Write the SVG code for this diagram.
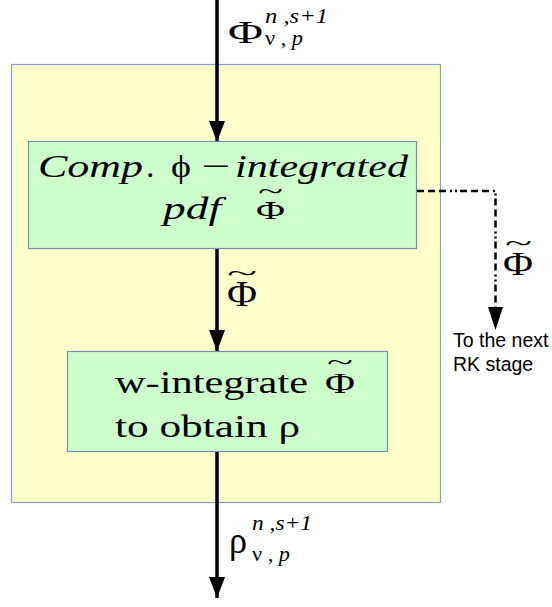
<svg xmlns="http://www.w3.org/2000/svg" width="552" height="607" viewBox="0 0 552 607">
<style>
.frame{fill:#ffffcc;stroke:#87a0c8;stroke-width:1.2}
.box{fill:#ccffcc;stroke:#7890b0;stroke-width:1.2}
.ser{font-family:"Liberation Serif","Times New Roman",serif;fill:#000}
.it{font-style:italic}
.sans{font-family:"Liberation Sans",Arial,sans-serif;fill:#000;font-size:19.5px}
.wire{stroke:#000;stroke-width:3.5;fill:none}
.dd{stroke:#000;stroke-width:2.5;fill:none;stroke-dasharray:7 4 7 4 7 4 2 3 2 3}
</style>
<defs>
<marker id="ah" viewBox="0 0 21 16" refX="21" refY="8" markerWidth="21" markerHeight="16" markerUnits="userSpaceOnUse" orient="auto">
<path d="M0,0 L21,8 L0,16 Z" fill="#000"/>
</marker>
</defs>
<rect id="frame" class="frame" x="11.5" y="64.5" width="429" height="438"/>
<g id="connectors">
<line class="wire" x1="217" y1="0" x2="217" y2="142" marker-end="url(#ah)"/>
<line class="wire" x1="217" y1="249" x2="217" y2="351" marker-end="url(#ah)"/>
<line class="wire" x1="217" y1="451" x2="217" y2="598" marker-end="url(#ah)"/>
<polyline class="dd" points="417,191 495.5,191 495.5,309"/>
<path d="M488,307 L503,307 L495.5,330 Z" fill="#000"/>
</g>
<g id="node-comp">
<rect class="box" x="28.5" y="141.5" width="388" height="107"/>
<text class="ser it" x="38" y="177" font-size="32" textLength="105" lengthAdjust="spacingAndGlyphs">Comp</text>
<text class="ser it" x="147" y="177" font-size="32">.</text>
<text class="ser" x="171" y="177" font-size="32" textLength="20" lengthAdjust="spacingAndGlyphs">ϕ</text>
<text class="ser" x="201" y="177" font-size="32" textLength="29" lengthAdjust="spacingAndGlyphs">−</text>
<text class="ser it" x="235" y="177" font-size="32" textLength="173" lengthAdjust="spacingAndGlyphs">integrated</text>
<text class="ser it" x="163" y="219" font-size="32" textLength="58" lengthAdjust="spacingAndGlyphs">pdf</text>
<text class="ser" font-size="25"><tspan x="256" y="219" textLength="29" lengthAdjust="spacingAndGlyphs">Φ</tspan><tspan x="258" y="199" font-size="24" textLength="25" lengthAdjust="spacingAndGlyphs">~</tspan></text>
</g>
<g id="node-wint">
<rect class="box" x="67.5" y="351.5" width="320" height="100"/>
<text class="ser" x="115" y="393" font-size="32" textLength="193" lengthAdjust="spacingAndGlyphs">w-integrate</text>
<text class="ser" font-size="30"><tspan x="325" y="393" textLength="30" lengthAdjust="spacingAndGlyphs">Φ</tspan><tspan x="327" y="370" font-size="24" textLength="26" lengthAdjust="spacingAndGlyphs">~</tspan></text>
<text class="ser" x="115" y="437" font-size="32" textLength="185" lengthAdjust="spacingAndGlyphs">to obtain ρ</text>
</g>
<g id="labels">
<text class="ser" x="228" y="43" font-size="32" textLength="35" lengthAdjust="spacingAndGlyphs">Φ</text>
<text class="ser it" x="265" y="23" font-size="21" textLength="63" lengthAdjust="spacingAndGlyphs">n ,s+1</text>
<text class="ser it" x="265" y="45" font-size="21" textLength="38" lengthAdjust="spacingAndGlyphs"><tspan font-style="normal">ν</tspan> , p</text>
<text class="ser" font-size="35"><tspan x="227" y="306" textLength="30" lengthAdjust="spacingAndGlyphs">Φ</tspan><tspan x="227" y="281" font-size="24" textLength="30" lengthAdjust="spacingAndGlyphs">~</tspan></text>
<text class="ser" font-size="34"><tspan x="503" y="275" textLength="30" lengthAdjust="spacingAndGlyphs">Φ</tspan><tspan x="505" y="251" font-size="24" textLength="27" lengthAdjust="spacingAndGlyphs">~</tspan></text>
<text class="sans" x="453" y="347">To the next</text>
<text class="sans" x="453" y="371">RK stage</text>
<text class="ser" x="229" y="553" font-size="37" textLength="18" lengthAdjust="spacingAndGlyphs">ρ</text>
<text class="ser it" x="252" y="530" font-size="21" textLength="60" lengthAdjust="spacingAndGlyphs">n ,s+1</text>
<text class="ser it" x="252" y="561" font-size="21" textLength="38" lengthAdjust="spacingAndGlyphs"><tspan font-style="normal">ν</tspan> , p</text>
</g>
</svg>
